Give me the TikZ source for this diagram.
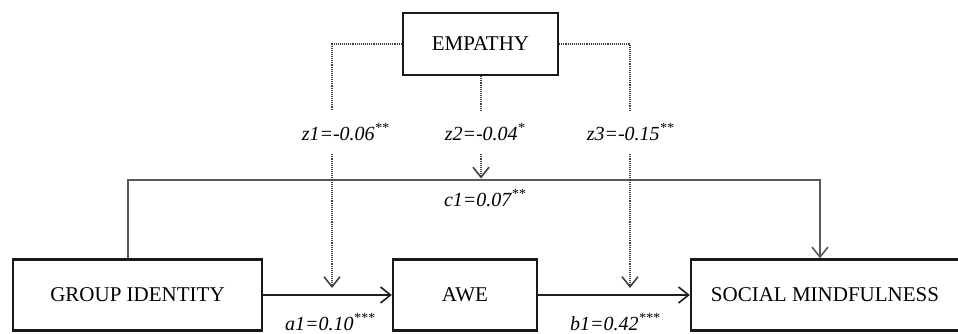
\documentclass[tikz,border=0pt]{standalone}
\usepackage{fontspec}
\setmainfont{Liberation Serif}
\usetikzlibrary{arrows.meta}
\begin{document}
\begin{tikzpicture}[x=1pt,y=-1pt,
  box/.style={draw=black!90, line width=2.3pt, minimum height=71pt, inner sep=0pt,
    font=\fontsize{21}{25}\selectfont},
  lbl/.style={inner sep=0pt, font=\fontsize{20}{24}\selectfont\itshape},
  zlbl/.style={lbl, minimum height=44pt},
  tip/.style={-{Straight Barb[length=10pt,width=16pt,line width=1.6pt]}},
  main/.style={line width=1.9pt, draw=black!88, tip},
  direct/.style={line width=1.3pt, draw=black!65, tip},
  dots/.style={line width=2pt, draw=black!75, dash pattern=on 1.1pt off 1pt},
  dtip/.style={dots, -{Straight Barb[length=10pt,width=16pt,line width=1.6pt]}}
]
\useasboundingbox (0,0) rectangle (958,333);

\node[box, minimum width=249pt] (GI) at (137.5,295) {GROUP IDENTITY};
\node[box, minimum width=144pt] (AWE) at (465,295) {AWE};
\node[box, minimum width=268pt] (SM) at (825,295) {SOCIAL MINDFULNESS};
\node[box, minimum width=155pt, minimum height=62pt] (EMP) at (480.5,44) {EMPATHY};

% target points on paths
\coordinate (t1) at (332,295);
\coordinate (t2) at (481,180);
\coordinate (t3) at (630,295);
\coordinate (cL) at (128,180);
\coordinate (cR) at (820,180);

% labels
\node[zlbl] (z1) at (345.5,132) {z1=-0.06\textsuperscript{**}};
\node[zlbl] (z2) at (485,132) {z2=-0.04\textsuperscript{*}};
\node[zlbl] (z3) at (630.5,132) {z3=-0.15\textsuperscript{**}};
\node[lbl] (c1) at (485,198) {c1=0.07\textsuperscript{**}};
\node[lbl] (a1) at (330,322) {a1=0.10\textsuperscript{***}};
\node[lbl] (b1) at (615,322) {b1=0.42\textsuperscript{***}};

% main paths
\draw[main] (GI.east) -- (AWE.west);
\draw[main] (AWE.east) -- (SM.west);
\draw[direct] (GI.north -| cL) -- (cL) -- (cR) -- (SM.north -| cR);

% moderation paths
\draw[dots] (EMP.west) -| (t1 |- z1.north);
\draw[dtip, shorten >=7pt] (t1 |- z1.south) -- (t1);
\draw[dots] (EMP.south -| t2) -- (t2 |- z2.north);
\draw[dtip, shorten >=1.5pt] (t2 |- z2.south) -- (t2);
\draw[dots] (EMP.east) -| (t3 |- z3.north);
\draw[dtip, shorten >=7pt] (t3 |- z3.south) -- (t3);
\end{tikzpicture}
\end{document}
